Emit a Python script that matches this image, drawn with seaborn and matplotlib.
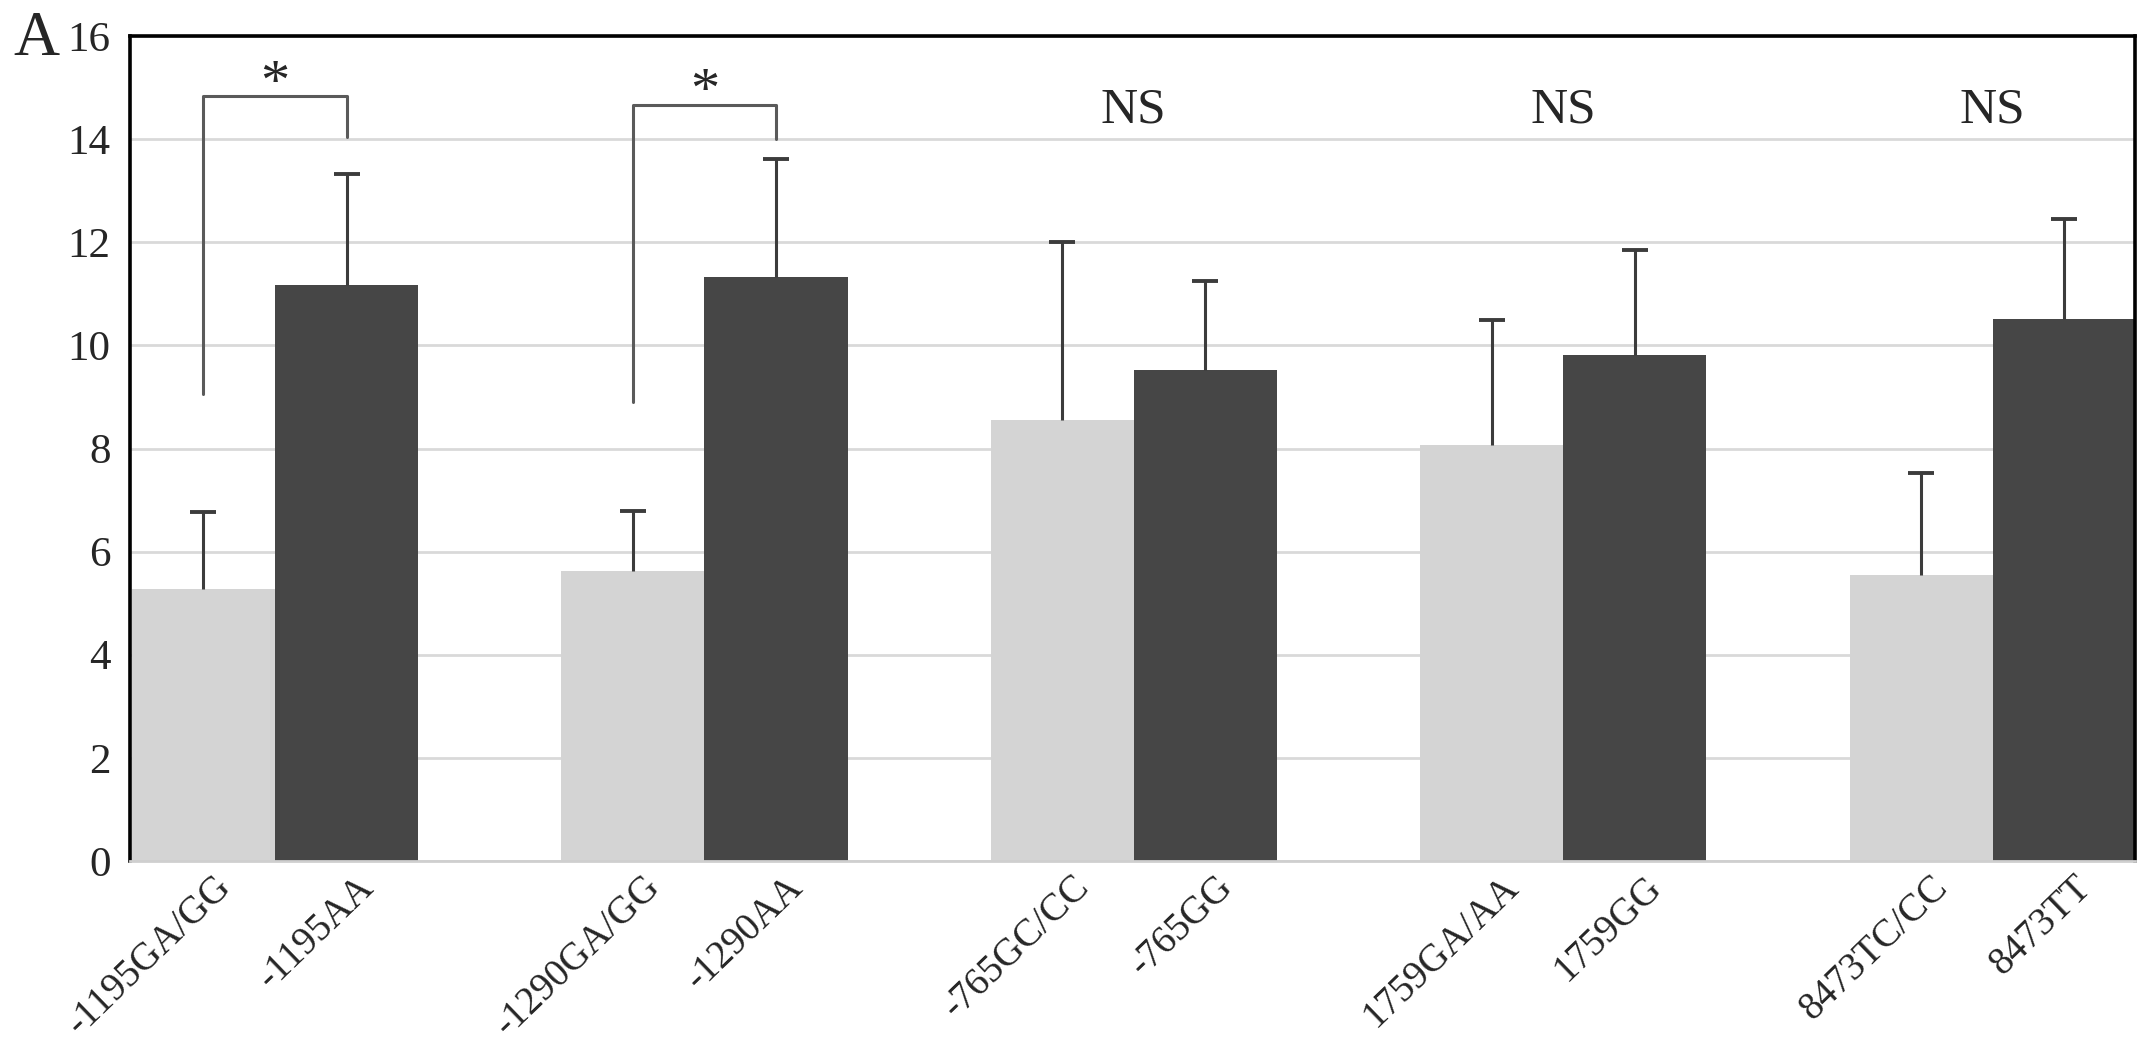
import matplotlib
matplotlib.use('Agg')
import matplotlib.pyplot as plt
import matplotlib.transforms as mtransforms
import numpy as np
import pandas as pd
import seaborn as sns

# Data
snps = ['-1195', '-1290', '-765', '1759', '8473']
light_labels = ['-1195GA/GG', '-1290GA/GG', '-765GC/CC', '1759GA/AA', '8473TC/CC']
dark_labels = ['-1195AA', '-1290AA', '-765GG', '1759GG', '8473TT']
light_means = [5.28, 5.62, 8.56, 8.07, 5.54]
light_err = [1.48, 1.16, 3.44, 2.43, 1.98]
dark_means = [11.18, 11.33, 9.52, 9.82, 10.52]
dark_err = [2.15, 2.29, 1.73, 2.03, 1.93]

# significance annotations
sig_marks = ['*', '*', 'NS', 'NS', 'NS']
bracket_left_low = [9.05, 8.9]
bracket_top = [14.84, 14.66]
bracket_right_low = [14.05, 14.0]
star_y = [15.05, 14.9]
ns_y = 14.56

light_col = '#d4d4d4'
dark_col = '#464646'

sns.set_style('white')
plt.rcParams['font.family'] = ['Liberation Serif', 'DejaVu Serif']

df = pd.DataFrame({
    'snp': snps * 2,
    'geno': ['light'] * 5 + ['dark'] * 5,
    'value': light_means + dark_means,
})

fig = plt.figure(figsize=(21.5, 10.48), dpi=100)
ax = fig.add_axes([0.0605, 0.1785, 0.9325, 0.787])

sns.barplot(data=df, x='snp', y='value', hue='geno', order=snps,
            hue_order=['light', 'dark'], palette=[light_col, dark_col],
            width=2 / 3, dodge=True, legend=False, ax=ax, errorbar=None,
            saturation=1, linewidth=0)

# bar centres from the drawn patches
bars = sorted(ax.patches, key=lambda p: p.get_x())
centers = [p.get_x() + p.get_width() / 2 for p in bars]
light_x = centers[0::2]
dark_x = centers[1::2]

# upper-only error bars (hide the cap at the bar top)
ekw = dict(fmt='none', ecolor='#3c3c3c', elinewidth=2.2, capsize=9.3, capthick=2.8, zorder=4)
for xs, ms, es in [(light_x, light_means, light_err), (dark_x, dark_means, dark_err)]:
    eb = ax.errorbar(xs, ms, yerr=[np.zeros(5), es], **ekw)
    eb[1][0].set_visible(False)

# brackets and significance marks
for i, mark in enumerate(sig_marks):
    mid = (light_x[i] + dark_x[i]) / 2
    if mark == '*':
        ax.plot([light_x[i], light_x[i], dark_x[i], dark_x[i]],
                [bracket_left_low[i], bracket_top[i], bracket_top[i], bracket_right_low[i]],
                color='#5a5a5a', lw=2.2, zorder=4)
        ax.text(mid, star_y[i], '*', ha='center', va='center', fontsize=42)
    else:
        ax.text(mid, ns_y, mark, ha='center', va='center', fontsize=37)

ax.set_ylim(0, 16)
ax.set_yticks(np.arange(0, 17, 2))
ax.set_xlim(-1 / 3 - 0.004, 4 + 1 / 3 - 0.002)
ax.yaxis.grid(True, color='#d9d9d9', lw=2)
ax.set_axisbelow(True)
ax.set_xlabel('')
ax.set_ylabel('')

for side in ['left', 'top', 'right']:
    ax.spines[side].set_color('black')
    ax.spines[side].set_linewidth(2.6)
ax.spines['bottom'].set_color('#cfcfcf')
ax.spines['bottom'].set_linewidth(2)

ax.tick_params(axis='y', length=0, pad=14, labelsize=31)
ax.tick_params(axis='x', length=0, pad=15, labelsize=28)

tick_pos = sorted(centers)
tick_lab = [l for pair in zip(light_labels, dark_labels) for l in pair]
ax.set_xticks(tick_pos)
ax.set_xticklabels(tick_lab, rotation=44, ha='right', va='center', rotation_mode='anchor')
shift = mtransforms.ScaledTranslation(0.22, 0, fig.dpi_scale_trans)
for lab in ax.get_xticklabels():
    lab.set_transform(lab.get_transform() + shift)

fig.text(0.006, 0.9475, 'A', fontsize=46, ha='left', va='baseline')

fig.savefig('out.png', dpi=100)
